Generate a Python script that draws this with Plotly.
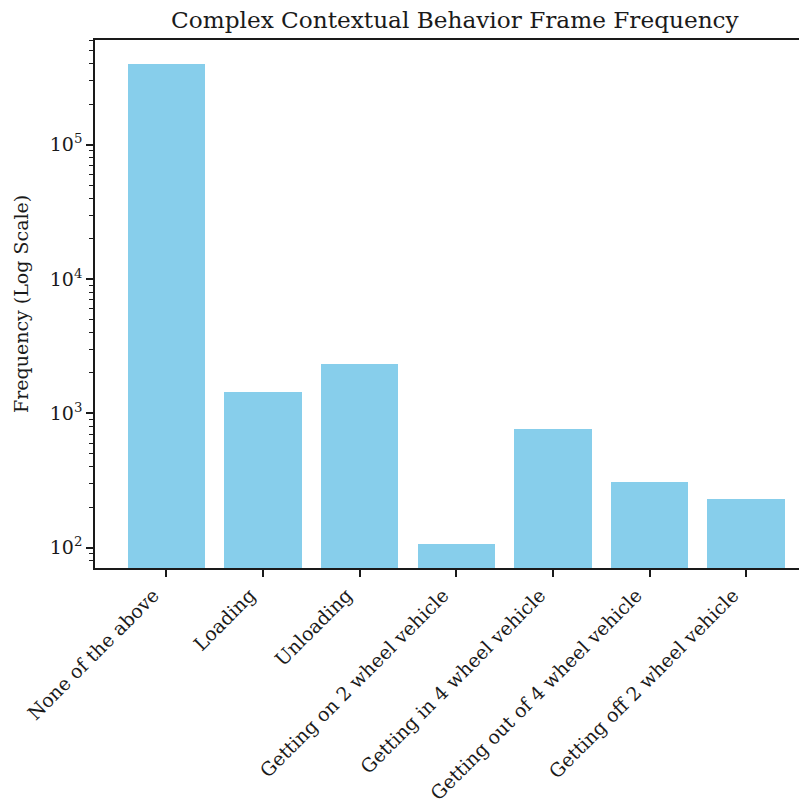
import plotly.graph_objects as go

categories = ["None of the above", "Loading", "Unloading", "Getting on 2 wheel vehicle",
              "Getting in 4 wheel vehicle", "Getting out of 4 wheel vehicle", "Getting off 2 wheel vehicle"]
frequencies = [399000, 1440, 2330, 106, 766, 310, 232]
major_ticks = [100, 1000, 10000, 100000]
major_labels = ["10<sup>2</sup>", "10<sup>3</sup>", "10<sup>4</sup>", "10<sup>5</sup>"]
minor_ticks = [m * 10 ** e for e in range(1, 6) for m in range(2, 10)]

FONT = "DejaVu Serif"
AXC = "#1a1a1a"
TS = 19

fig = go.Figure(go.Bar(x=list(range(len(categories))), y=frequencies,
                       marker=dict(color="#87CEEB", line=dict(width=0)), width=0.8))

fig.update_layout(
    width=807, height=800,
    margin=dict(l=87, r=0, t=32, b=240, autoexpand=False),
    paper_bgcolor="white", plot_bgcolor="white",
    font=dict(family=FONT, size=TS, color=AXC),
    showlegend=False,
    bargap=0,
)
fig.update_xaxes(
    range=[-0.74, 6.713],
    tickmode="array", tickvals=list(range(len(categories))), ticktext=categories,
    tickangle=-45, ticks="outside", ticklen=7, tickwidth=1.5, tickcolor=AXC,
    ticklabelshift=-13,
    showline=True, linecolor=AXC, linewidth=1.5, mirror=True,
    showgrid=False, zeroline=False,
    tickfont=dict(family=FONT, size=TS, color=AXC),
)
fig.update_yaxes(
    type="log", range=[1.849, 5.780],
    tickmode="array", tickvals=major_ticks, ticktext=major_labels,
    ticks="outside", ticklen=7, tickwidth=1.5, tickcolor=AXC,
    minor=dict(tickmode="array", tickvals=minor_ticks, ticks="outside", ticklen=4,
               tickwidth=1.1, tickcolor=AXC, showgrid=False),
    showline=True, linecolor=AXC, linewidth=1.5, mirror=False,
    showgrid=False, zeroline=False,
    tickfont=dict(family=FONT, size=TS, color=AXC),
)
fig.add_annotation(text="Complex Contextual Behavior Frame Frequency",
                   xref="paper", yref="paper", x=0.5, y=1, xanchor="center", yanchor="bottom",
                   yshift=5, showarrow=False, font=dict(family=FONT, size=23.2, color=AXC))
fig.add_annotation(text="Frequency (Log Scale)", textangle=-90,
                   xref="paper", yref="paper", x=0, y=0.5, xanchor="right", yanchor="middle",
                   xshift=-61, showarrow=False, font=dict(family=FONT, size=TS, color=AXC))

fig.write_html("out.html")
